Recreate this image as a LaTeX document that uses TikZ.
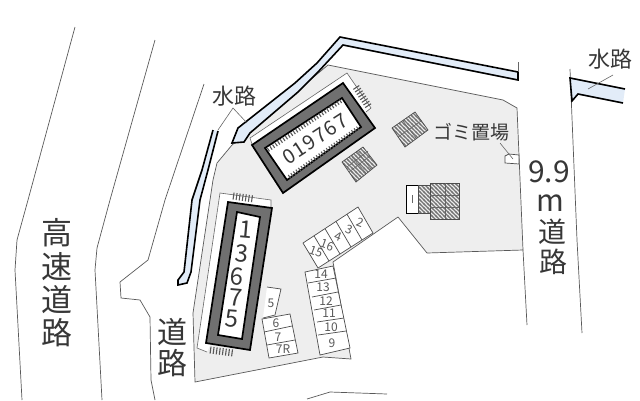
\documentclass[tikz,border=0pt]{standalone}
\usepackage{fontspec}
\setmainfont{Noto Sans CJK JP}
\newfontfamily\widedigits[LetterSpace=7]{Noto Sans CJK JP}
\usepackage{tikz}
\usetikzlibrary{calc}
\usetikzlibrary{patterns}

\pgfdeclarepatternformonly{widestripes}{\pgfqpoint{-1pt}{-1pt}}{\pgfqpoint{5pt}{5pt}}{\pgfqpoint{4pt}{4pt}}{
	\pgfsetlinewidth{1.4pt}
	\pgfpathmoveto{\pgfqpoint{-1pt}{5pt}}
	\pgfpathlineto{\pgfqpoint{5pt}{-1pt}}
	\pgfusepath{stroke}
}

\definecolor{sitegray}{RGB}{238,238,238}
\definecolor{waterblue}{RGB}{226,236,248}
\definecolor{wallgray}{RGB}{112,112,112}
\definecolor{inkgray}{RGB}{55,55,55}

\tikzset{
	roadline/.style={draw=black!65, line width=0.7pt},
	thinline/.style={draw=black!60, line width=0.6pt},
	water/.style={draw=none, fill=waterblue},
	waterbank/.style={draw=black, line width=1.6pt, miter limit=6},
	wall/.style={draw=black, fill=wallgray, line width=1.7pt},
	room/.style={draw=black, fill=white, line width=1.7pt},
	slot/.style={draw=black!70, fill=white, line width=0.7pt},
	hatched/.style={draw=black!70, pattern=widestripes, pattern color=black!55, line width=0.7pt},
	ticks/.style={draw=black!65, dash pattern=on 1.1pt off 2pt},
	maptext/.style={text=inkgray, inner sep=0pt},
	slotnum/.style={text=black!65, inner sep=0pt, font=\fontsize{12}{12}\selectfont},
}

\begin{document}
\begin{tikzpicture}[x=1pt, y=-1pt]
				\useasboundingbox (0,0) rectangle (640,400);

				% roads
				\draw[roadline] (75,27) -- (28,200) -- (17,240) -- (15,270) -- (22,400);
				\draw[roadline] (155,40) -- (110,200) -- (97,248) -- (95,270) -- (102,400);
				\draw[roadline] (204,84) -- (165,200) -- (148,260) -- (120,282) -- (121,298) -- (140,300) -- (150,317) -- (151,380) -- (155,400);
				\draw[roadline] (570,69) -- (577,240) -- (582,333);
				\draw[roadline] (523,250) -- (527,325);
				\draw[roadline] (307,399) -- (330,392) -- (387,394);

				% site
				\path[roadline, fill=sitegray]
					(328,65) -- (503,100) -- (517,108) -- (523,250) -- (427,253) -- (398,217) -- (333,262)
					-- (351,359) -- (323,357) -- (195,382) -- (193,313) -- (213,180) -- (217,163) -- (232,145) -- cycle;

				% water
				\fill[water] (238,128) -- (295,83) -- (317,63) -- (340,37) -- (518,72) -- (518,80) -- (343,45) -- (318,72) -- (298,92) -- (250,133) -- (244,142) -- (232,143) -- cycle;
				\draw[waterbank] (232,143) -- (238,128) -- (295,83) -- (317,63) -- (340,37) -- (518,72) -- (518,80) -- (343,45) -- (318,72) -- (298,92) -- (250,133) -- (244,142) -- cycle;
				\draw[thinline] (518,62) -- (518,72);
				\fill[water] (213,130) -- (202,170) -- (192,200) -- (184,272) -- (178,280) -- (178,285) -- (187,283) -- (191,272) -- (200,200) -- (208,170) -- (218,131) -- cycle;
				\draw[waterbank] (213,130) -- (202,170) -- (192,200) -- (184,272) -- (178,280) -- (178,285) -- (187,283) -- (191,272) -- (200,200) -- (208,170) -- (218,131);
				\fill[water] (570,78) -- (625,89) -- (623,103) -- (578,94) -- (572,101) -- cycle;
				\draw[waterbank] (625,89) -- (570,78) -- (572,101) -- (578,94) -- (623,103);

				% long building
				\draw[thinline, fill=white] (252,144) -- (250,138) -- (347,73) -- (371,108) -- (366,112);
				\draw[ticks, line width=7pt] (356,87) -- (369,107);
				\draw[wall] (252,145) -- (343,83) -- (375,128) -- (283,193) -- cycle;
				\draw[room] (265,148) -- (342,98) -- (361,127) -- (287,180) -- cycle;
				\draw[ticks, line width=4pt] (268,150) -- (341,101);
				\draw[ticks, line width=4pt] (289,177) -- (358,128);
				\node[maptext, rotate=33, font=\widedigits\fontsize{20}{20}\selectfont] (numA) at (315,139) {019767};

				% upright building
				\draw[thinline, fill=white] (271,208) -- (271,200) -- (220,193) -- (197,348) -- (207,352);
				\draw[ticks, line width=7pt] (233,196) -- (254,199);
				\draw[ticks, line width=7pt] (210,350) -- (233,353);
				\draw[wall] (228,202) -- (272,208) -- (250,350) -- (206,343) -- cycle;
				\draw[room] (237,212) -- (260,217) -- (242,339) -- (218,335) -- cycle;
				\foreach \d/\x/\y [count=\xi from 1] in {1/246/230,3/242/254,6/237/277,7/236/298,5/232/319} {
					\node[maptext, rotate=-5, font=\fontsize{24}{24}\selectfont] (numB\xi) at (\x,\y) {\d};
				};

				% hatched patches
				\path[hatched] (342,162) -- (363,147) -- (377,165) -- (356,182) -- cycle;
				\draw[thinline] (349,172) -- (370,156) (352,157) -- (366,173) (347,167) -- (368,151) (357,151) -- (371,169);
				\path[hatched] (392,128) -- (415,112) -- (428,130) -- (405,147) -- cycle;
				\draw[thinline] (398,137) -- (421,121) (403,121) -- (416,138);
				\draw[slot, draw=black] (406,185) rectangle (418,213);
				\draw[thinline] (412,195) -- (412,203);
				\path[hatched] (418,185) rectangle (430,213);
				\path[hatched] (430,183) rectangle (459,219);
				\draw[thinline] (430,195) -- (459,195) (430,207) -- (459,207) (445,183) -- (445,219);

				% parking row
				\coordinate (rowA) at (303,243);
				\coordinate (rowB) at (358,207);
				\coordinate (rowC) at (373,233);
				\coordinate (rowD) at (318,268);
				\draw[slot] (rowA) -- (rowB) -- (rowC) -- (rowD) -- cycle;
				\foreach \t in {0.2,0.4,0.6,0.8} {
					\draw[slot] ($(rowA)!\t!(rowB)$) -- ($(rowD)!\t!(rowC)$);
				};
				\foreach \n/\x/\y in {15/316/252,16/327/245,4/338/237,3/349/230,2/360/223} {
					\node[slotnum, rotate=-20] (slot\n) at (\x,\y) {\n};
				};

				% parking columns
				\draw[slot] (305,272) -- (333,266) -- (350,348) -- (320,355) -- cycle;
				\foreach \ax/\ay/\bx/\by in {308/283/336/278,312/297/338/292,314/310/341/305,317/322/344/318,318/335/346/331} {
					\draw[slot] (\ax,\ay) -- (\bx,\by);
				};
				\foreach \n/\x/\y in {14/321/274,13/323/287,12/326/301,11/329/313,10/331/327,9/332/343} {
					\node[slotnum] (slot\n) at (\x,\y) {\n};
				};
				\draw[slot] (267,287) -- (281,289) -- (275,315) -- (263,318);
				\draw[slot] (262,319) -- (290,314) -- (298,353) -- (269,358) -- cycle;
				\draw[slot] (264,332) -- (292,326) (267,345) -- (295,340);
				\foreach \n/\x/\y in {5/271/303,6/276/323,7/278/337,7R/283/349} {
					\node[slotnum] (slot\n) at (\x,\y) {\n};
				};

				% trash place
				\draw[slot] (505,156) -- (509,154) -- (519,155) -- (519,164) -- (505,163) -- cycle;

				% labels
				\node[maptext, font=\fontsize{19}{19}\selectfont] (trashlabel) at (471,132) {ゴミ置場};
				\node[maptext, font=\fontsize{22}{22}\selectfont] (waterA) at (234,96) {水路};
				\node[maptext, font=\fontsize{22}{22}\selectfont] (waterB) at (610,59) {水路};
				\node[maptext, font=\fontsize{30}{30}\selectfont] (widthnum) at (549,172) {9.9};
				\node[maptext, font=\fontsize{30}{30}\selectfont] (widthm) at (550,203) {m};
				\node[maptext, font=\fontsize{28}{28}\selectfont] (roadR1) at (552,232) {道};
				\node[maptext, font=\fontsize{28}{28}\selectfont] (roadR2) at (553,262) {路};
				\node[maptext, font=\fontsize{30}{30}\selectfont] (roadL1) at (172,332) {道};
				\node[maptext, font=\fontsize{30}{30}\selectfont] (roadL2) at (172,363) {路};
				\foreach \c/\y [count=\xi from 1] in {高/233,速/267,道/300,路/333} {
					\node[maptext, font=\fontsize{31}{31}\selectfont] (highway\xi) at (57,\y) {\c};
				};

				% leaders
				\coordinate (leadA) at (233,108);
				\coordinate (leadAl) at (218,130);
				\coordinate (leadAr) at (247,123);
				\coordinate (leadB) at (613,75);
				\coordinate (leadBe) at (588,89);
				\coordinate (leadC) at (500,143);
				\coordinate (leadCe) at (513,159);
				\draw[thinline] (leadAl) -- (leadA) -- (leadAr);
				\draw[thinline] (leadB) -- (leadBe);
				\draw[thinline] (leadC) -- (leadCe);
			\end{tikzpicture}
\end{document}
